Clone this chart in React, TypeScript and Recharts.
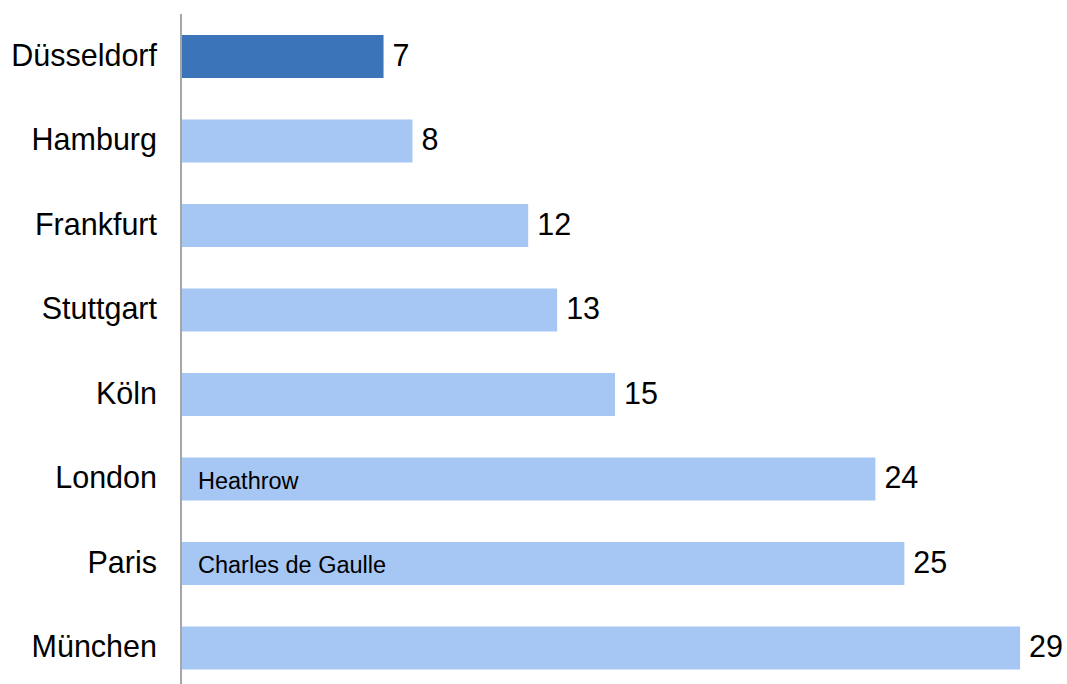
import React from 'react';
import { BarChart, Bar, XAxis, YAxis, Cell, LabelList } from 'recharts';

// Flughäfen: Werte je Stadt, oberster Balken hervorgehoben
const cities = ['Düsseldorf', 'Hamburg', 'Frankfurt', 'Stuttgart', 'Köln', 'London', 'Paris', 'München'];
const values = [7, 8, 12, 13, 15, 24, 25, 29];
const notes = ['', '', '', '', '', 'Heathrow', 'Charles de Gaulle', ''];
const highlighted = 'Düsseldorf';

const data = cities.map((city, i) => ({ city, value: values[i], note: notes[i] }));

const DARK = '#3b74b9';
const LIGHT = '#a6c6f4';
const FONT = '"Liberation Sans", Arial, sans-serif';

export default function App() {
  return (
    <div style={{ position: 'absolute', top: 0, left: 0, background: '#fff' }}>
      <BarChart
        width={1067}
        height={700}
        data={data}
        layout="vertical"
        margin={{ top: 14, right: 18, left: 0, bottom: 10 }}
        barSize={43}
      >
        <XAxis type="number" domain={[0, 30]} hide />
        <YAxis
          type="category"
          dataKey="city"
          width={181}
          axisLine={{ stroke: '#a6a6a6', strokeWidth: 2 }}
          tickLine={false}
          tickSize={0}
          tickMargin={24}
          tick={{ fill: '#000', fontSize: 30.5, fontFamily: FONT, dy: -1.5 }}
        />
        <Bar dataKey="value" isAnimationActive={false}>
          {data.map((d) => (
            <Cell key={d.city} fill={d.city === highlighted ? DARK : LIGHT} />
          ))}
          <LabelList
            dataKey="value"
            position="right"
            offset={9}
            fill="#000"
            fontSize={30.5}
            fontFamily={FONT}
            dy={-1.5}
          />
          <LabelList
            dataKey="note"
            position="insideLeft"
            offset={17}
            fill="#000"
            fontSize={23.5}
            fontFamily={FONT}
            dy={1.5}
          />
        </Bar>
      </BarChart>
    </div>
  );
}
